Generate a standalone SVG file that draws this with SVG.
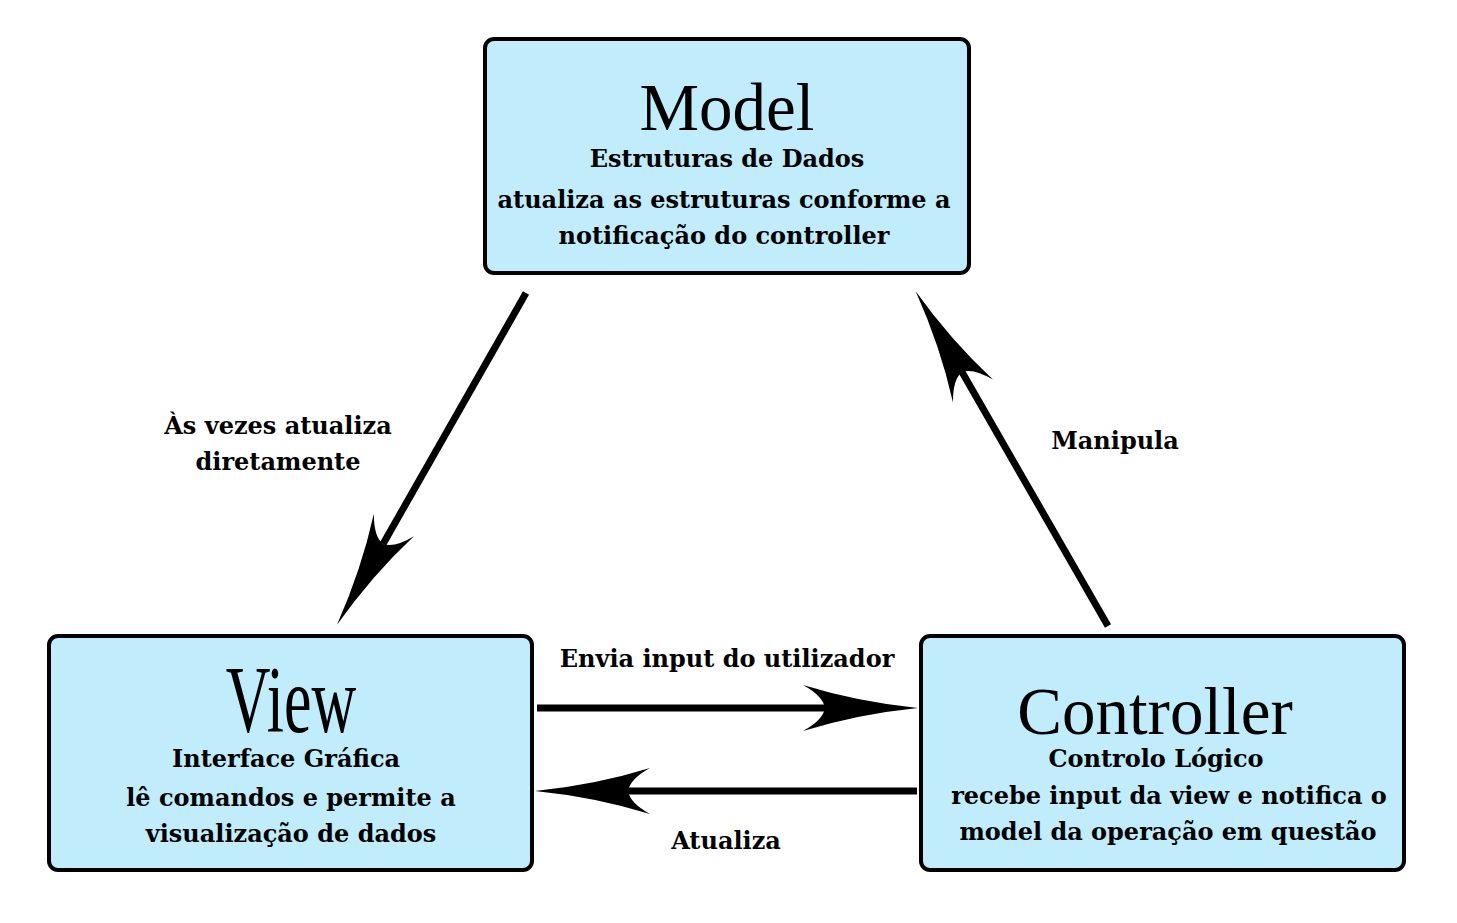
<svg xmlns="http://www.w3.org/2000/svg" width="1457" height="923" viewBox="0 0 1457 923">
<style>
.box{fill:#c0ecfc;stroke:#000;stroke-width:4}
.title{font-family:"Liberation Serif",serif;fill:#000;text-anchor:middle}
.sub{font-family:"DejaVu Serif",serif;font-weight:bold;font-size:24px;fill:#000;text-anchor:middle}
.lbl{font-family:"DejaVu Serif",serif;font-weight:bold;font-size:24px;fill:#000;text-anchor:middle}
.conn{stroke:#000;stroke-width:7;fill:none;marker-end:url(#head)}
</style>
<defs>
<marker id="head" markerUnits="userSpaceOnUse" orient="auto" refX="0" refY="0" markerWidth="130" markerHeight="60" overflow="visible">
<path d="M 93,0 Q 33,-6 -22,-23 Q -2,-12 0,0 Q -2,12 -22,23 Q 33,6 93,0 Z" fill="#000"/>
</marker>
</defs>
<rect width="1457" height="923" fill="#fff"/>
<g id="connectors">
<line class="conn" x1="526" y1="293" x2="383" y2="544"/>
<line class="conn" x1="1108" y1="626" x2="962" y2="372"/>
<line class="conn" x1="537" y1="708" x2="825" y2="708"/>
<line class="conn" x1="917" y1="791" x2="628" y2="791"/>
<text class="lbl" x="278" y="434">Às vezes atualiza</text>
<text class="lbl" x="278" y="470">diretamente</text>
<text class="lbl" x="1115" y="449">Manipula</text>
<text class="lbl" x="727" y="667">Envia input do utilizador</text>
<text class="lbl" x="726" y="849">Atualiza</text>
</g>
<g id="model">
<rect class="box" x="485" y="39" width="484" height="234" rx="9"/>
<text class="title" x="727" y="130" font-size="67">Model</text>
<text class="sub" x="727" y="167">Estruturas de Dados</text>
<text class="sub" x="724" y="208">atualiza as estruturas conforme a</text>
<text class="sub" x="724" y="244">notificação do controller</text>
</g>
<g id="view">
<rect class="box" x="49" y="636" width="483" height="234" rx="9"/>
<text class="title" x="0" y="732" font-size="96" transform="translate(291,0) scale(0.645,1)">View</text>
<text class="sub" x="286" y="767">Interface Gráfica</text>
<text class="sub" x="291" y="806">lê comandos e permite a</text>
<text class="sub" x="291" y="842">visualização de dados</text>
</g>
<g id="controller">
<rect class="box" x="921" y="636" width="483" height="234" rx="9"/>
<text class="title" x="1155" y="734" font-size="67">Controller</text>
<text class="sub" x="1156" y="767">Controlo Lógico</text>
<text class="sub" x="1169" y="804">recebe input da view e notifica o</text>
<text class="sub" x="1168" y="840">model da operação em questão</text>
</g>
</svg>
